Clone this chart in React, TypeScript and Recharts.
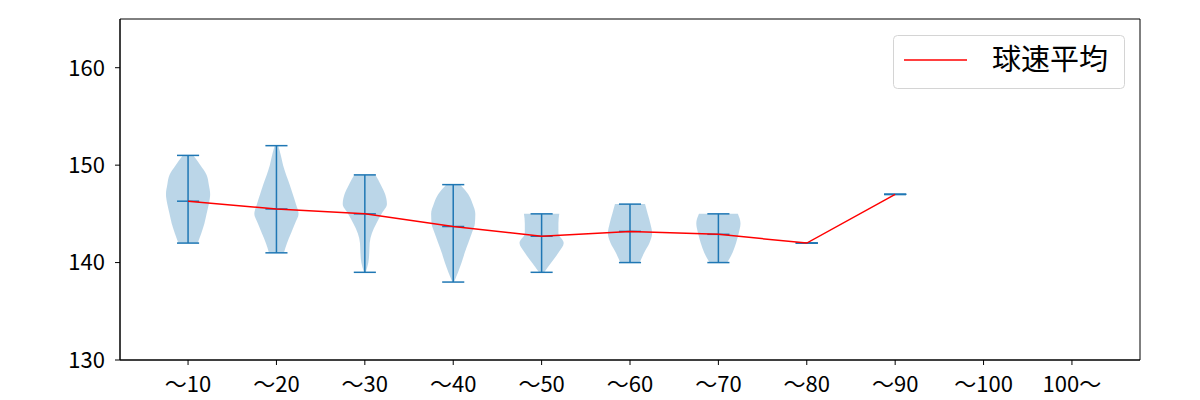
import { ComposedChart, Area, Line, XAxis, YAxis, ReferenceLine, ReferenceArea, Legend } from 'recharts'

const labels = ['～10', '～20', '～30', '～40', '～50', '～60', '～70', '～80', '～90', '～100', '100～']
const mins = [142, 141, 139, 138, 139, 140, 140, 142, 147]
const maxs = [151, 152, 149, 148, 145, 146, 145, 142, 147]
const means = [146.3, 145.5, 145.0, 143.7, 142.7, 143.2, 142.9, 142.0, 147.0]

// violin half-widths, one per km/h from the min speed upwards
const w10 = [0.11, 0.15, 0.185, 0.21, 0.235, 0.25, 0.235, 0.21, 0.14, 0.06]
const w20 = [0.085, 0.12, 0.165, 0.21, 0.25, 0.22, 0.185, 0.15, 0.11, 0.075, 0.05, 0.02]
const w30 = [0.01, 0.04, 0.05, 0.055, 0.08, 0.13, 0.19, 0.25, 0.23, 0.18, 0.12]
const w40 = [0.01, 0.055, 0.095, 0.13, 0.17, 0.21, 0.245, 0.25, 0.22, 0.17, 0.08]
const w50 = [0.03, 0.11, 0.19, 0.25, 0.19, 0.19, 0.2]
const w60 = [0.11, 0.16, 0.22, 0.25, 0.23, 0.2, 0.17]
const w70 = [0.1, 0.16, 0.2, 0.23, 0.25, 0.22]
const violins = [w10, w20, w30, w40, w50, w60, w70]

const FONT = '"Noto Sans CJK JP", "Noto Sans", sans-serif'
const BLUE = '#1f77b4'

const table: Record<string, any>[] = []
for (let s = 138; s <= 152; s++) {
  const row: Record<string, any> = { v: s }
  violins.forEach((w, k) => {
    const j = s - mins[k]
    if (j >= 0 && j < w.length) row['d' + k] = [k + 1 - w[j], k + 1 + w[j]]
  })
  table.push(row)
}

const meanRows = means.map((m, i) => ({ v: m, x: i + 1 }))

const segs: { x: number; y: number }[][] = []
means.forEach((m, i) => {
  const c = i + 1
  segs.push([{ x: c, y: mins[i] }, { x: c, y: maxs[i] }])
  for (const y of [mins[i], maxs[i], m]) {
    segs.push([{ x: c - 0.125, y }, { x: c + 0.125, y }])
  }
})

function LegendBox({ payload }: any) {
  const items = (payload || []).filter((p: any) => p.type !== 'none')
  return (
    <svg width={232} height={54}>
      <rect x={0.5} y={0.5} width={231} height={53} rx={4} fill="#fff" stroke="#d4d4d4" />
      {items.map((p: any) => (
        <g key={p.value}>
          <line x1={11} x2={74} y1={25} y2={25} stroke={p.color} strokeWidth={1.5} />
          <text x={99} y={35} fontSize={29} fontFamily={FONT} fill="#000">{p.value}</text>
        </g>
      ))}
    </svg>
  )
}

export default function App() {
  return (
    <div style={{ position: 'absolute', left: 0, top: 0, background: '#fff' }}>
      <ComposedChart
        width={1200}
        height={400}
        layout="vertical"
        data={table}
        margin={{ top: 19, right: 60, bottom: 0, left: 0 }}
      >
        <XAxis
          type="number"
          domain={[0.23, 11.77]}
          allowDataOverflow
          ticks={[1, 2, 3, 4, 5, 6, 7, 8, 9, 10, 11]}
          tickFormatter={(t: number) => labels[t - 1]}
          interval={0}
          height={40}
          tickSize={5}
          tickMargin={11}
          stroke="#000"
          tick={{ fill: '#000', fontSize: 22, fontFamily: FONT }}
        />
        <YAxis
          type="number"
          dataKey="v"
          domain={[130, 165]}
          allowDataOverflow
          reversed
          ticks={[130, 140, 150, 160]}
          width={120}
          tickSize={5}
          tickMargin={10}
          stroke="#000"
          tick={{ fill: '#000', fontSize: 22, fontFamily: FONT }}
        />
        <ReferenceArea x1={0.23} x2={11.77} y1={130} y2={165} fill="none" stroke="#000" strokeWidth={1} />
        {violins.map((_, k) => (
          <Area
            key={k}
            dataKey={'d' + k}
            type="monotone"
            stroke="none"
            fill={BLUE}
            fillOpacity={0.3}
            legendType="none"
            isAnimationActive={false}
          />
        ))}
        {segs.map((s, i) => (
          <ReferenceLine key={i} segment={s} stroke={BLUE} strokeWidth={1.5} />
        ))}
        <Line
          data={meanRows}
          dataKey="x"
          name="球速平均"
          stroke="#ff0000"
          strokeWidth={1.5}
          dot={false}
          isAnimationActive={false}
        />
        <Legend
          layout="horizontal"
          align="center"
          verticalAlign="middle"
          content={<LegendBox />}
          wrapperStyle={{ position: 'absolute', left: 893, top: 35, width: 232, height: 54 }}
        />
      </ComposedChart>
    </div>
  )
}
